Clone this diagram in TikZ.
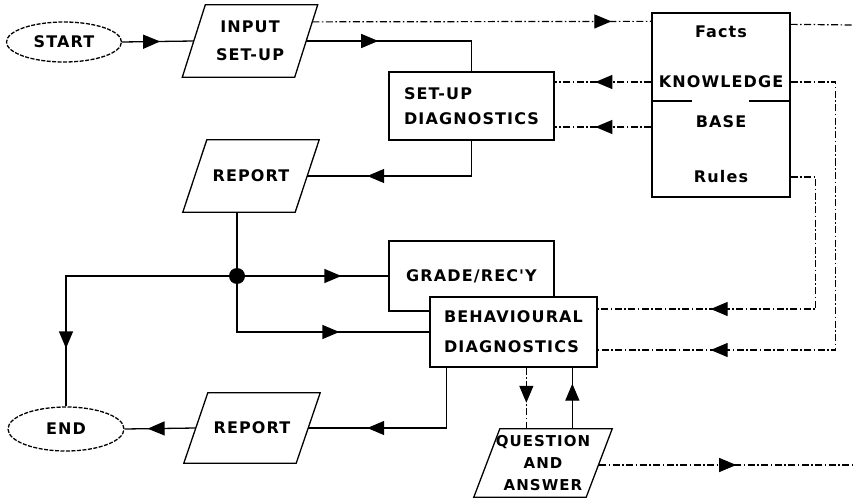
\documentclass[tikz,border=0pt]{standalone}
\usepackage{fontspec}
\newfontfamily\dm{DejaVu Sans}[LetterSpace=7]
\usetikzlibrary{shapes.geometric,arrows.meta,decorations.markings,calc}
\tikzset{
  txt/.style={font=\dm\bfseries\fontsize{16pt}{25pt}\selectfont},
  solidline/.style={draw, line width=1.3pt},
  kbline/.style={draw, line width=1.2pt, dash pattern=on 7pt off 2.5pt on 1.5pt off 2.5pt},
  arrat/.style={postaction={decorate},
    decoration={markings, mark=at position #1 with {\arrow{Triangle[length=17pt,width=14pt]}}}},
  box/.style={txt, draw, line width=1.3pt, fill=white, rectangle, inner sep=0pt, align=left},
  term/.style={txt, ellipse, draw, line width=1.3pt, dash pattern=on 4pt off 1.5pt, inner sep=0pt},
  io/.style={txt, rectangle, minimum width=112pt, inner sep=0pt, align=center},
  lbl/.style={txt, inner sep=0pt},
  dotnode/.style={circle, fill=black, minimum size=16pt, inner sep=0pt},
}
\newcommand\pgram[2]{%
  \draw[line width=1.3pt] ([xshift=#2]#1.north west) -- ([xshift=#2]#1.north east)
    -- ([xshift=-#2]#1.south east) -- ([xshift=-#2]#1.south west) -- cycle;}
\begin{document}
\begin{tikzpicture}[x=1pt,y=-1pt]
\fill[white] (0,0) rectangle (854,500);
\useasboundingbox (0,0) rectangle (854,500);

% terminals
\node[term, minimum width=115pt, minimum height=40pt] (start) at (64,42) {START};
\node[term, minimum width=116pt, minimum height=44pt] (end) at (66,429) {END};

% input/output parallelograms
\node[io, minimum height=72pt] (input) at (250,41) {INPUT\\[3pt]SET-UP};
\pgram{input}{11.5pt}
\coordinate (in-ne) at ([xshift=11.5pt]input.north east);
\coordinate (in-se) at ([xshift=-11.5pt]input.south east);
\node[io, minimum height=72pt] (rep1) at (251,176) {REPORT};
\pgram{rep1}{12pt}
\node[io, minimum height=70pt] (rep2) at (252,428) {REPORT};
\pgram{rep2}{12pt}
\node[io, minimum height=68pt, font=\dm\bfseries\fontsize{15pt}{22pt}\selectfont] (qa) at (543,463) {QUESTION\\AND\\ANSWER};
\pgram{qa}{13pt}

% process boxes
\node[box, minimum width=165pt, minimum height=68pt] (setup) at (471.5,106) {SET-UP\\DIAGNOSTICS};
\node[box, minimum width=165pt, minimum height=70pt] (grade) at (471.5,276) {GRADE/REC'Y};
\node[box, minimum width=167pt, minimum height=70pt] (behav) at (513.5,332) {BEHAVIOURAL\\[5pt]DIAGNOSTICS};

% knowledge base
\node[box, minimum width=138pt, minimum height=184pt] (kb) at (721,105) {};
\node[lbl] (facts) at (721,32) {Facts};
\node[lbl] (know) at (721,82) {KNOWLEDGE};
\node[lbl] (base) at (721,122) {BASE};
\node[lbl] (rules) at (721,177) {Rules};
\draw[line width=1.3pt] ($(kb.west)+(0,-4)$) -- ++(41,0);
\draw[line width=1.3pt] ($(kb.east)+(0,-4)$) -- ++(-42,0);

% junction
\node[dotnode] (dot) at (237,276) {};

% free ends
\coordinate (fr1) at (854,25);
\coordinate (fr2) at (854,465);
\coordinate (qd) at ($(behav.south west)+(97,0)$);
\coordinate (qu) at ($(behav.south west)+(143,0)$);
\coordinate (bd) at ($(behav.south west)+(17,0)$);

% connectors
\draw[solidline, arrat=38pt] (start.east) -- (input.west);
\draw[kbline, arrat=-40pt] ($(in-ne)!0.236!(in-se)$) -- ($(kb.north west)+(0,9)$);
\draw[solidline, arrat=72pt] (input.east) -| (setup.north);
\draw[solidline, arrat=-60pt] (setup.south) |- (rep1.east);
\draw[kbline, arrat=56pt] (kb.west |- know) -- (setup.east |- know);
\draw[kbline, arrat=56pt] ($(kb.west)+(0,22)$) -- ($(setup.east)+(0,21)$);
\draw[kbline] ($(kb.north east)+(0,12)$) -- (fr1);
\draw[kbline, arrat=-113pt] (kb.east |- know) -- ++(45,0) |- ($(behav.east)+(0,18)$);
\draw[kbline, arrat=-113pt] (kb.east |- rules) -- ++(25,0) |- ($(behav.east)+(0,-23)$);
\draw[solidline] (rep1.south -| dot) -- (dot);
\draw[solidline, arrat=-47pt] (dot) -- (grade.west);
\draw[solidline, arrat=-58pt] (dot) -| (end.north);
\draw[solidline, arrat=-90pt] (dot) |- (behav.west);
\draw[solidline, arrat=-59pt] (bd) |- (rep2.east);
\draw[solidline, arrat=-23pt] (rep2.west) -- (end.east);
\draw[kbline, arrat=-26pt] (qd) -- (qd |- qa.north);
\draw[solidline, arrat=-16pt] (qu |- qa.north) -- (qu);
\draw[kbline, arrat=137pt] ($(qa.east)+(0,2)$) -- (fr2);
\end{tikzpicture}
\end{document}
